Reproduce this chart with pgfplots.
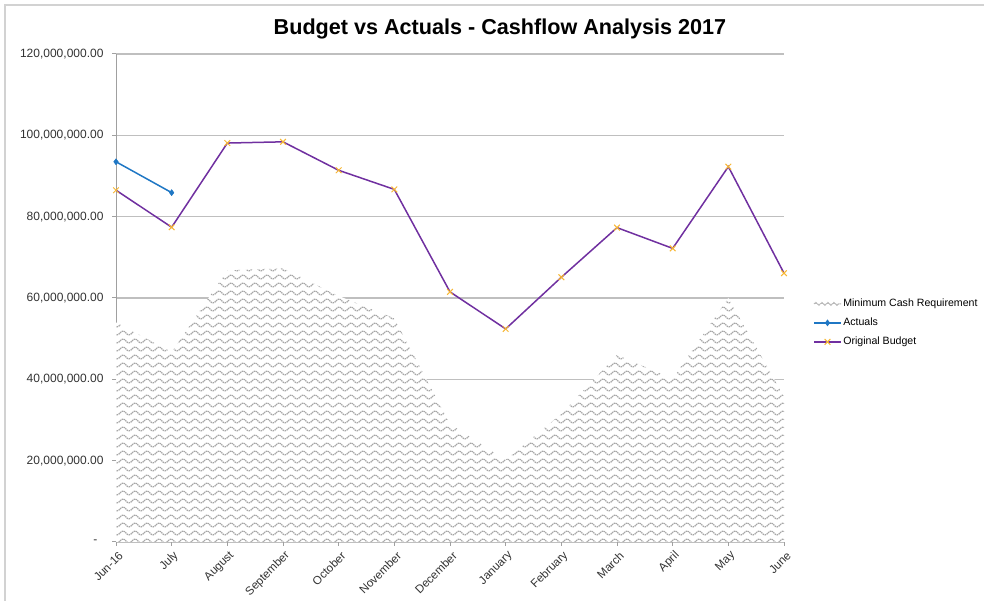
\documentclass[border=0pt]{standalone}
\usepackage{pgfplots}
\pgfplotsset{compat=1.18}
\usepackage{fontspec}
\setmainfont{Liberation Sans}
\usetikzlibrary{patterns,decorations.pathmorphing}
\pgfdeclarepatternformonly{waves}{\pgfqpoint{-1pt}{-1pt}}{\pgfqpoint{13pt}{9pt}}{\pgfqpoint{12pt}{8pt}}{%
 \pgfsetlinewidth{1.2pt}%
 \pgfsetdash{{1.4pt}{0.7pt}}{0pt}%
 \pgfpathmoveto{\pgfqpoint{0pt}{4pt}}%
 \pgfpathcurveto{\pgfqpoint{2pt}{6.5pt}}{\pgfqpoint{4pt}{6.5pt}}{\pgfqpoint{6pt}{4pt}}%
 \pgfpathcurveto{\pgfqpoint{8pt}{1.5pt}}{\pgfqpoint{10pt}{1.5pt}}{\pgfqpoint{12pt}{4pt}}%
 \pgfusepath{stroke}%
}
\definecolor{actblue}{RGB}{31,119,196}
\definecolor{budpurple}{RGB}{112,48,160}
\definecolor{markorange}{RGB}{247,183,51}
\definecolor{gridgray}{RGB}{191,191,191}
\definecolor{axgray}{RGB}{160,160,160}
\definecolor{lblgray}{RGB}{50,50,50}
\begin{document}
\begin{tikzpicture}[x=1pt,y=1pt]
\path[use as bounding box] (0,0) rectangle (984,601);
\draw[gray!35, line width=1.5pt] (5,0) -- (5,596) -- (984,596);
\begin{axis}[
  at={(116pt,59pt)}, anchor=south west,
  scale only axis, width=668pt, height=488pt,
  xmin=0, xmax=12, ymin=0, ymax=120000000,
  scaled y ticks=false,
  clip=false,
  axis lines*=left,
  axis line style={axgray, line width=1pt},
  tick style={axgray, line width=1pt},
  tick align=outside, major tick length=4pt,
  ymajorgrids, grid style={gridgray, line width=1.2pt},
  xtick={0,...,12},
  xticklabels={Jun-16,July,August,September,October,November,December,January,February,March,April,May,June},
  ytick={0,20000000,40000000,60000000,80000000,100000000,120000000},
  yticklabels={{-\hspace*{6pt}},{20,000,000.00},{40,000,000.00},{60,000,000.00},{80,000,000.00},{100,000,000.00},{120,000,000.00}},
  yticklabel style={font=\fontsize{12}{14}\selectfont, text=lblgray, xshift=-5pt},
  xticklabel style={font=\fontsize{11.6}{13}\selectfont, text=lblgray, rotate=45, anchor=east, inner sep=1pt, yshift=-9pt, xshift=-1pt},
  legend style={at={(1.0435,0.449)}, anchor=west, draw=none, fill=none, inner sep=0pt,
    font=\fontsize{10.6}{12}\selectfont, row sep=6pt,
    nodes={inner sep=1.5pt, text height=8pt, text depth=2pt}},
  legend cell align=left,
  legend image code/.code={\draw[mark repeat=2,mark phase=2,#1] plot coordinates {(0pt,0pt) (13.5pt,0pt) (27pt,0pt)};},
]
\addplot[draw=none, fill=white, postaction={pattern=waves, pattern color=gray!70},
  legend image code/.code={\draw[gray!55,line width=1pt,dash pattern=on 1.4pt off 0.7pt,decorate,decoration={snake,amplitude=1.5pt,segment length=6pt}] (0pt,0pt) -- (27pt,0pt);}]
  coordinates {(0,54000000) (1,46700000) (2,66800000) (3,67300000) (4,60500000) (5,55000000) (6,29000000) (7,20200000) (8,31500000) (9,46000000) (10,40200000) (11,60000000) (12,35800000)} \closedcycle;
\addlegendentry{Minimum Cash Requirement}
\addplot[actblue, line width=1.5pt, mark=diamond*, mark size=3pt, mark options={fill=actblue, line width=0.5pt}]
  coordinates {(0,93500000) (1,85900000)};
\addlegendentry{Actuals}
\addplot[budpurple, line width=1.5pt, mark=x, mark size=4pt, mark options={draw=markorange, line width=1pt}]
  coordinates {(0,86500000) (1,77400000) (2,98100000) (3,98400000) (4,91400000) (5,86700000) (6,61500000) (7,52400000) (8,65100000) (9,77300000) (10,72200000) (11,92300000) (12,66100000)};
\addlegendentry{Original Budget}
\end{axis}
\node[font=\bfseries\fontsize{21.6}{24}\selectfont] at (500,572) {Budget vs Actuals - Cashflow Analysis 2017};
\end{tikzpicture}
\end{document}
